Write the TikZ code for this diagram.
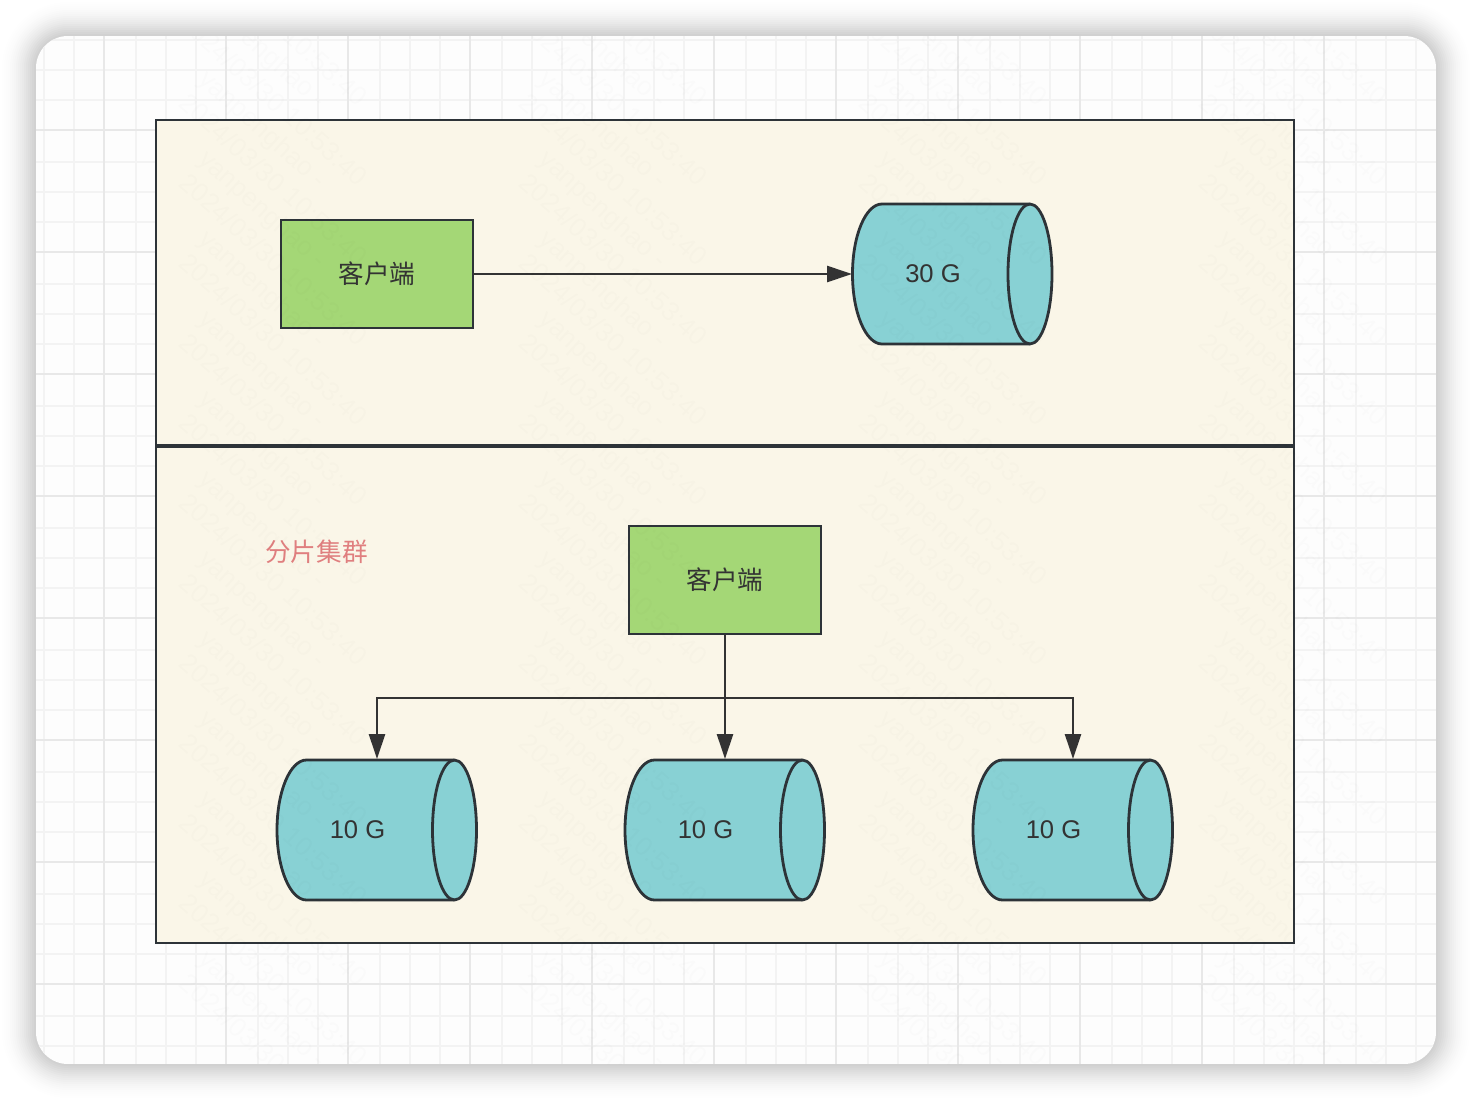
\documentclass[tikz,border=0pt]{standalone}
\usepackage{fontspec}
\setmainfont{Liberation Sans}
\newfontfamily\cjkfont{Noto Sans CJK SC}
\usetikzlibrary{arrows.meta}
\definecolor{inkdark}{HTML}{2D3338}
\definecolor{linkdark}{HTML}{333333}
\definecolor{panelfill}{HTML}{FAF6E8}
\definecolor{greenfill}{HTML}{A4D776}
\definecolor{cylfill}{HTML}{88D1D4}
\definecolor{redtext}{HTML}{E07F7F}
\definecolor{cardfill}{HTML}{FDFDFD}
\definecolor{gridminor}{HTML}{F3F3F3}
\definecolor{gridmajor}{HTML}{E8E8E8}
\tikzset{
  panelbox/.style={draw=inkdark,fill=panelfill,line width=2.6pt,inner sep=0pt,outer sep=0pt,minimum width=1138pt},
  clientbox/.style={draw=inkdark,fill=greenfill,line width=2.6pt,inner sep=0pt,outer sep=0pt,minimum width=192pt,minimum height=108pt,text=linkdark,font=\cjkfont\fontsize{25.6}{30}\selectfont},
  cylbody/.style={draw=inkdark,fill=cylfill,line width=2.8pt,line join=round},
  cylnode/.style={inner sep=0pt,outer sep=1pt,minimum width=199pt,minimum height=140pt,text=linkdark,font=\fontsize{25.6}{30}\selectfont},
  link/.style={draw=linkdark,line width=2.6pt,-{Triangle[length=25pt,width=16pt]}},
  marktext/.style={black,opacity=0.012,rotate=-42,anchor=base west,inner sep=0pt,font=\fontsize{26.5}{30}\selectfont}
}
\newcommand{\cylshape}[4]{%
  \path[cylbody] ({#2-70.5},{#3-70}) arc[start angle=90,delta angle=180,x radius=29.5pt,y radius=70pt]
    -- ({#2+77.5},{#3+70}) arc[start angle=-90,delta angle=180,x radius=22pt,y radius=70pt] -- cycle;
  \path[cylbody,fill=none] ({#2+77.5},{#3-70}) arc[start angle=90,delta angle=180,x radius=22pt,y radius=70pt];
  \node[cylnode] (#1) at (#2,#3) {#4\kern39pt};
}
\begin{document}
\begin{tikzpicture}[x=1pt,y=-1pt]
\useasboundingbox (0,0) rectangle (1472,1100);
% card shadow
\foreach \s in {36,34,...,2}{
  \pgfmathsetmacro{\rad}{32+\s}
  \pgfmathsetmacro{\alf}{0.021*(1-\s/38)}
  \fill[black,opacity=\alf,rounded corners=\rad pt] ({36-\s},{36-\s}) rectangle ({1436+\s},{1064+\s});
}
\begin{scope}
\path[clip,rounded corners=32pt] (36,36) rectangle (1436,1064);
\fill[cardfill] (36,36) rectangle (1436,1064);
\foreach \m in {-18,104,226,348,470,592,714,836,958,1080,1202,1324}{
  \foreach \d in {32,62,92}{
    \draw[gridminor,line width=1.3pt] ({\m+\d},36) -- ({\m+\d},1064);
  }
}
\foreach \m in {8,130,252,374,496,618,740,862,984}{
  \foreach \d in {32,62,92}{
    \draw[gridminor,line width=1.3pt] (36,{\m+\d}) -- (1436,{\m+\d});
  }
}
\foreach \m in {104,226,348,470,592,714,836,958,1080,1202,1324}{
  \draw[gridmajor,line width=1.4pt] (\m,36) -- (\m,1064);
}
\foreach \m in {130,252,374,496,618,740,862,984}{
  \draw[gridmajor,line width=1.4pt] (36,\m) -- (1436,\m);
}
\end{scope}
% panels
\node[panelbox,minimum height=326pt] (upper) at (725,283) {};
\node[panelbox,minimum height=497pt] (lower) at (725,694.5) {};
\draw[inkdark,line width=4.6pt] (upper.south west) -- (upper.south east);
% upper row
\node[clientbox] (clientA) at (377,274) {客户端};
\cylshape{bigdisk}{952.5}{274}{30 G}
\draw[link] (clientA.east) -- (bigdisk.west);
% lower row
\node[font=\cjkfont\fontsize{25.6}{30}\selectfont,text=redtext,inner sep=0pt] (cluster) at (316.5,552) {分片集群};
\node[clientbox] (clientB) at (725,580) {客户端};
\cylshape{diskA}{377}{830}{10 G}
\cylshape{diskB}{725}{830}{10 G}
\cylshape{diskC}{1073}{830}{10 G}
\coordinate (bus) at (725,698);
\draw[link] (clientB.south) -- (bus) -| (diskA.north);
\draw[link] (clientB.south) -- (diskB.north);
\draw[link] (clientB.south) -- (bus) -| (diskC.north);
% watermark
\begin{scope}
\path[clip,rounded corners=32pt] (36,36) rectangle (1436,1064);
\foreach \c in {177,517,857,1197}{
  \foreach \r in {-63,17,97,177,257,337,417,497,577,657,737,817,897,977}{
    \node[marktext] (date\c-\r) at (\c,{\r+8}) {2024/03/30 10:53:40};
    \node[marktext] (name\c-\r) at ({\c+20},{\r-16}) {yanpenghao -};
  }
}
\end{scope}
\end{tikzpicture}
\end{document}
